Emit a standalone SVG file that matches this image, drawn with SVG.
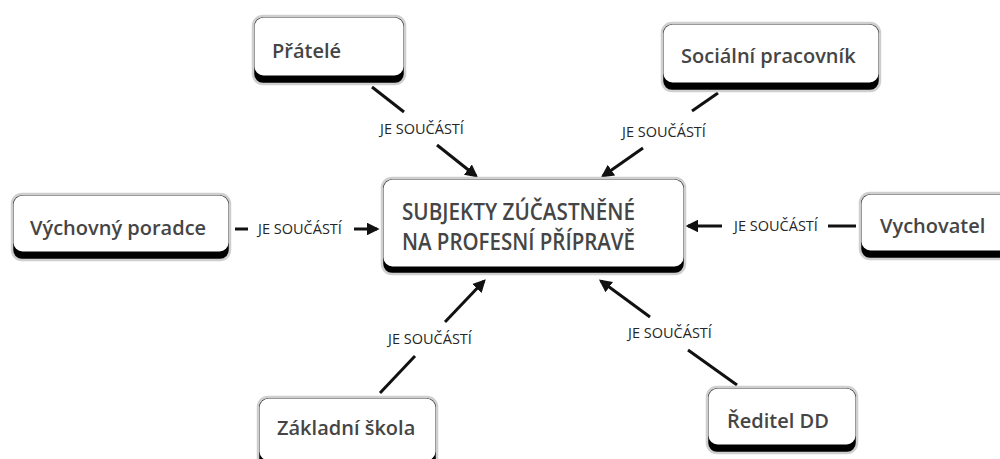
<svg xmlns="http://www.w3.org/2000/svg" width="1000" height="459" viewBox="0 0 1000 459">
<defs>
<style>
.frame{fill:#000;stroke:#cfcfcf;stroke-width:2.5}
.inner{fill:#fff}
.nt{font-family:"Open Sans","Noto Sans","DejaVu Sans",sans-serif;font-weight:600;font-size:20px;fill:#454545}
.ct{font-family:"Open Sans","Noto Sans","DejaVu Sans",sans-serif;font-weight:600;font-size:24px;fill:#454545}
.lb{font-family:"Open Sans","Noto Sans","DejaVu Sans",sans-serif;font-size:14.5px;fill:#262626;text-anchor:middle}
.ln{stroke:#111;stroke-width:3;fill:none}
.ar{stroke:#111;stroke-width:3;fill:none;marker-end:url(#ah)}
</style>
<marker id="ah" viewBox="0 0 10 10" refX="8" refY="5" markerWidth="4.3" markerHeight="4.3" orient="auto" markerUnits="strokeWidth">
<path d="M0,0 L10,5 L0,10 z" fill="#111"/>
</marker>
</defs>
<rect width="1000" height="459" fill="#fff"/>

<g id="connectors">
<line class="ln" x1="372" y1="87" x2="404" y2="112"/>
<line class="ar" x1="437" y1="145" x2="476" y2="176"/>
<text class="lb" x="422" y="134">JE SOUČÁSTÍ</text>

<line class="ln" x1="718" y1="93" x2="692" y2="111"/>
<line class="ar" x1="643" y1="148" x2="603" y2="176"/>
<text class="lb" x="664" y="137">JE SOUČÁSTÍ</text>

<line class="ln" x1="235" y1="229" x2="248" y2="229"/>
<line class="ar" x1="354" y1="229" x2="377" y2="229"/>
<text class="lb" x="300" y="234">JE SOUČÁSTÍ</text>

<line class="ln" x1="856" y1="226" x2="828" y2="226"/>
<line class="ar" x1="722" y1="226" x2="688" y2="226"/>
<text class="lb" x="776" y="231">JE SOUČÁSTÍ</text>

<line class="ln" x1="380" y1="393" x2="415" y2="356"/>
<line class="ar" x1="445" y1="322" x2="484" y2="281"/>
<text class="lb" x="430" y="344">JE SOUČÁSTÍ</text>

<line class="ln" x1="737" y1="385" x2="688" y2="350"/>
<line class="ar" x1="650" y1="317" x2="601" y2="281"/>
<text class="lb" x="670" y="338">JE SOUČÁSTÍ</text>
</g>

<g id="center">
<rect class="frame" x="382" y="178" width="303" height="96" rx="10"/>
<rect class="inner" x="383.5" y="179.5" width="300" height="87" rx="9"/>
<text class="ct" x="402" y="220" textLength="233" lengthAdjust="spacingAndGlyphs">SUBJEKTY ZÚČASTNĚNÉ</text>
<text class="ct" x="402" y="250" textLength="233" lengthAdjust="spacingAndGlyphs">NA PROFESNÍ PŘÍPRAVĚ</text>
</g>

<g id="pratele">
<rect class="frame" x="253" y="16" width="152" height="68" rx="10"/>
<rect class="inner" x="254.5" y="17.5" width="149" height="58" rx="9"/>
<text class="nt" x="272" y="58">Přátelé</text>
</g>

<g id="socialni">
<rect class="frame" x="662" y="23" width="218" height="68" rx="10"/>
<rect class="inner" x="663.5" y="24.5" width="215" height="58" rx="9"/>
<text class="nt" x="681" y="63">Sociální pracovník</text>
</g>

<g id="vychovny">
<rect class="frame" x="12" y="194" width="218" height="66" rx="10"/>
<rect class="inner" x="13.5" y="195.5" width="215" height="56" rx="9"/>
<text class="nt" x="30" y="235">Výchovný poradce</text>
</g>

<g id="vychovatel">
<rect class="frame" x="860" y="193" width="170" height="66" rx="10"/>
<rect class="inner" x="861.5" y="194.5" width="167" height="56" rx="9"/>
<text class="nt" x="880" y="233">Vychovatel</text>
</g>

<g id="zakladni">
<rect class="frame" x="258" y="397" width="179" height="72" rx="10"/>
<rect class="inner" x="259.5" y="398.5" width="176" height="62" rx="9"/>
<text class="nt" x="277" y="435">Základní škola</text>
</g>

<g id="reditel">
<rect class="frame" x="707" y="387" width="150" height="66" rx="10"/>
<rect class="inner" x="708.5" y="388.5" width="147" height="56" rx="9"/>
<text class="nt" x="727" y="428">Ředitel DD</text>
</g>
</svg>
